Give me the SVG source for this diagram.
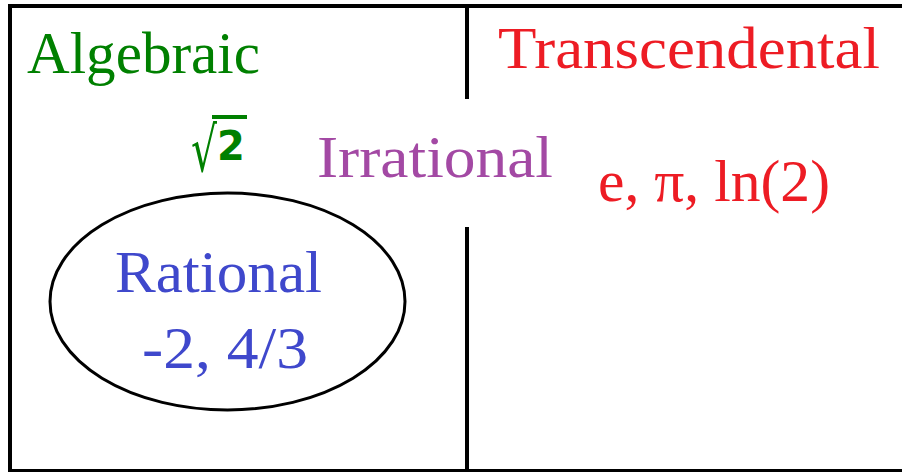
<svg xmlns="http://www.w3.org/2000/svg" width="902" height="472" viewBox="0 0 902 472">
<style>
.t{font-family:"Liberation Serif","Times New Roman",serif;font-size:60px}
.g{fill:#008000}.r{fill:#ed1c24}.p{fill:#a349a4}.b{fill:#3f48cc}
.ln{stroke:#000;fill:none}
</style>
<rect x="0" y="0" width="902" height="472" fill="#fff"/>
<g id="frame">
<path class="ln" stroke-width="4" d="M10,472 V6 H904"/>
<path class="ln" stroke-width="3" d="M10,470.5 H904"/>
</g>
<g id="connectors">
<line class="ln" stroke-width="4" x1="467" y1="6" x2="467" y2="99"/>
<line class="ln" stroke-width="4" x1="467" y1="227" x2="467" y2="471"/>
</g>
<g id="algebraic"><text class="t g" x="27" y="73" textLength="233" lengthAdjust="spacingAndGlyphs">Algebraic</text></g>
<g id="sqrt2">
<text x="191" y="171" font-family="DejaVu Sans,sans-serif" class="g"><tspan font-size="62" textLength="26" lengthAdjust="spacingAndGlyphs">√</tspan><tspan font-size="40" font-weight="bold" x="217" y="160">2</tspan></text>
<line x1="212" y1="117" x2="247" y2="117" stroke="#008000" stroke-width="4"/>
</g>
<g id="irrational"><text class="t p" x="317" y="177" textLength="236" lengthAdjust="spacingAndGlyphs">Irrational</text></g>
<g id="transcendental"><text class="t r" x="498" y="68" textLength="382" lengthAdjust="spacingAndGlyphs">Transcendental</text></g>
<g id="transcendental-ex"><text class="t r" x="598" y="201" textLength="232" lengthAdjust="spacingAndGlyphs">e, π, ln(2)</text></g>
<g id="rational">
<ellipse class="ln" stroke-width="3" cx="227.5" cy="301.5" rx="177.5" ry="108.5"/>
<text class="t b" x="115" y="292" textLength="207" lengthAdjust="spacingAndGlyphs">Rational</text>
<text class="t b" x="142" y="368" textLength="166" lengthAdjust="spacingAndGlyphs">-2, 4/3</text>
</g>
</svg>
